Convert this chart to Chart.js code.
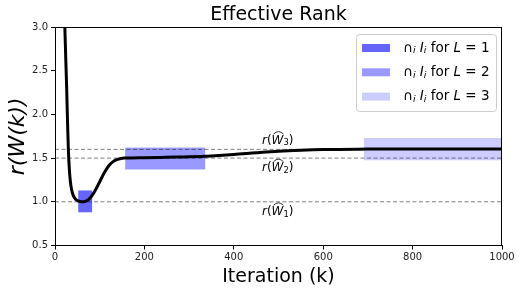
<!DOCTYPE html>
<html>
<head>
<meta charset="utf-8">
<script src="https://cdn.jsdelivr.net/npm/chart.js@4"></script>
<style>
  html, body { margin: 0; padding: 0; background: #fff; }
  #wrap { width: 521px; height: 292px; }
</style>
</head>
<body>
<div id="wrap"><canvas id="rankChart" width="521" height="292"></canvas></div>
<script>
// effective rank curve over iterations
const iterations = [10, 14, 18, 22, 24, 26, 28, 30, 32, 34, 37, 41, 46, 52, 60, 68, 76, 84, 92, 100, 110, 120, 130, 140, 155, 200, 250, 300, 350, 400, 450, 500, 550, 600, 700, 800, 1000];
const effRank    = [6.0, 4.6, 3.6, 3.0, 2.65, 2.32, 1.92, 1.58, 1.38, 1.25, 1.14, 1.07, 1.03, 1.01, 1.0, 1.005, 1.03, 1.08, 1.15, 1.23, 1.33, 1.41, 1.46, 1.485, 1.50, 1.505, 1.51, 1.515, 1.525, 1.54, 1.56, 1.578, 1.59, 1.598, 1.603, 1.605, 1.605];

// reference levels r(W_1), r(W_2), r(W_3)
const refLevels = [1.0, 1.5, 1.6];

// intervals  ∩_i I_i  for L = 1, 2, 3
const boxL = [1, 2, 3];
const boxIterFrom = [52, 157, 691];
const boxIterTo   = [83, 336, 1000];
const boxLow  = [0.88, 1.37, 1.475];
const boxHigh = [1.13, 1.62, 1.73];

const xTicks = [0, 200, 400, 600, 800, 1000];
const yTicks = [0.5, 1.0, 1.5, 2.0, 2.5, 3.0];

const boxColors = ['rgba(0,0,255,0.6)', 'rgba(0,0,255,0.4)', 'rgba(0,0,255,0.2)'];
const FONT = '"DejaVu Sans", sans-serif';

// draw runs of text: {t, it (italic), sub (subscript)}
function drawRuns(ctx, runs, x, y, size) {
    let cx = x;
    runs.forEach(r => {
        const s = r.sub ? size * 0.7 : size;
        ctx.font = (r.it ? 'italic ' : '') + s + 'px ' + FONT;
        ctx.fillText(r.t, cx, r.sub ? y + size * 0.22 : y);
        cx += ctx.measureText(r.t).width;
    });
    return cx;
}

function drawWLabel(ctx, n, x, y, size) {
    // r(W~_n)
    ctx.textBaseline = 'middle';
    ctx.textAlign = 'left';
    let cx = drawRuns(ctx, [{t: 'r', it: true}, {t: '(', it: false}], x, y, size);
    ctx.font = 'italic ' + size + 'px ' + FONT;
    const w = ctx.measureText('W').width;
    ctx.fillText('W', cx, y);
    // wide hat over W
    ctx.save();
    ctx.lineWidth = 0.8;
    ctx.beginPath();
    ctx.moveTo(cx + 2, y - size * 0.55);
    ctx.quadraticCurveTo(cx + w / 2 + 1, y - size * 0.95, cx + w, y - size * 0.55);
    ctx.stroke();
    ctx.restore();
    cx += w;
    drawRuns(ctx, [{t: String(n), sub: true}, {t: ')', it: false}], cx, y, size);
}

const decorPlugin = {
    id: 'decor',
    beforeDatasetsDraw(chart) {
        const {ctx, scales: {x, y}} = chart;
        const area = chart.chartArea;
        ctx.save();
        ctx.beginPath();
        ctx.rect(area.left, area.top, area.right - area.left, area.bottom - area.top);
        ctx.clip();
        boxL.forEach((L, i) => {
            const x0 = x.getPixelForValue(boxIterFrom[i]);
            const x1 = x.getPixelForValue(boxIterTo[i]);
            const y0 = y.getPixelForValue(boxHigh[i]);
            const y1 = y.getPixelForValue(boxLow[i]);
            ctx.fillStyle = boxColors[i];
            ctx.fillRect(x0, y0, x1 - x0, y1 - y0);
        });
        ctx.restore();
    },
    afterDraw(chart) {
        const {ctx, scales: {x, y}} = chart;
        const a = chart.chartArea;
        ctx.save();
        // frame
        ctx.strokeStyle = '#000';
        ctx.lineWidth = 1;
        ctx.strokeRect(Math.round(a.left) + 0.5, Math.round(a.top) + 0.5, Math.round(a.right - a.left) - 1, Math.round(a.bottom - a.top) - 1);

        ctx.fillStyle = '#000';
        ctx.strokeStyle = '#000';
        // title
        ctx.textAlign = 'center';
        ctx.textBaseline = 'middle';
        ctx.font = '19px ' + FONT;
        ctx.fillText('Effective Rank', (a.left + a.right) / 2, 15);
        // x title
        ctx.font = '19px ' + FONT;
        ctx.fillText('Iteration (k)', (a.left + a.right) / 2, 277);
        // y title
        ctx.save();
        ctx.translate(18, (a.top + a.bottom) / 2);
        ctx.rotate(-Math.PI / 2);
        ctx.font = 'italic 22px ' + FONT;
        ctx.fillText('r(W(k))', 0, 0);
        ctx.restore();

        // reference labels
        const lx = x.getPixelForValue(463);
        drawWLabel(ctx, 1, lx, y.getPixelForValue(0.885), 12);
        drawWLabel(ctx, 2, lx, y.getPixelForValue(1.385), 12);
        drawWLabel(ctx, 3, lx, y.getPixelForValue(1.70), 12);

        // legend
        const lgX = 356, lgY = 34, lgW = 140, lgH = 77;
        ctx.fillStyle = 'rgba(255,255,255,0.8)';
        ctx.strokeStyle = '#cccccc';
        ctx.lineWidth = 1;
        ctx.beginPath();
        ctx.roundRect(lgX + 0.5, lgY + 0.5, lgW, lgH, 3);
        ctx.fill();
        ctx.stroke();
        boxL.forEach((L, i) => {
            const cy = 48 + i * 24.3;
            ctx.fillStyle = boxColors[i];
            ctx.fillRect(362, cy - 4, 28, 8);
            ctx.fillStyle = '#000';
            ctx.textBaseline = 'middle';
            ctx.textAlign = 'left';
            drawRuns(ctx, [
                {t: '\u2229', it: false}, {t: 'i', it: true, sub: true}, {t: ' ', it: false},
                {t: 'I', it: true}, {t: 'i', it: true, sub: true},
                {t: ' for ', it: false}, {t: 'L', it: true}, {t: ' = ' + L, it: false}
            ], 403, cy, 13.5);
        });
        ctx.restore();
    }
};

const datasets = [{
    label: 'rank',
    data: iterations.map((it, i) => ({x: it, y: effRank[i]})),
    borderColor: '#000',
    borderWidth: 3,
    pointRadius: 0,
    cubicInterpolationMode: 'monotone',
    order: 2
}];
refLevels.forEach((v, i) => {
    datasets.push({
        label: 'ref' + (i + 1),
        data: [{x: 0, y: v}, {x: 1000, y: v}],
        borderColor: 'rgba(0,0,0,0.5)',
        borderWidth: 1,
        borderDash: [4, 2.5],
        pointRadius: 0,
        order: 1
    });
});

new Chart(document.getElementById('rankChart').getContext('2d'), {
    type: 'line',
    data: { datasets: datasets },
    options: {
        responsive: false,
        animation: false,
        devicePixelRatio: 1,
        layout: { padding: { top: 27, right: 19, left: 0, bottom: 0 } },
        plugins: { legend: { display: false }, tooltip: { enabled: false } },
        scales: {
            x: {
                type: 'linear', min: 0, max: 1000,
                afterBuildTicks: s => { s.ticks = xTicks.map(v => ({value: v})); },
                afterFit: s => { s.height = 46.5; },
                grid: { display: true, drawOnChartArea: false, tickLength: 4, color: '#000' },
                border: { display: true, color: '#000' },
                ticks: { color: '#222', font: { family: FONT, size: 10 }, padding: 2, maxRotation: 0, callback: v => String(v) }
            },
            y: {
                type: 'linear', min: 0.5, max: 3.0,
                afterBuildTicks: s => { s.ticks = yTicks.map(v => ({value: v})); },
                afterFit: s => { s.width = 55; },
                grid: { display: true, drawOnChartArea: false, tickLength: 4, color: '#000' },
                border: { display: true, color: '#000' },
                ticks: { color: '#222', font: { family: FONT, size: 10 }, padding: 3, callback: v => v.toFixed(1) }
            }
        }
    },
    plugins: [decorPlugin]
});
</script>
</body>
</html>
